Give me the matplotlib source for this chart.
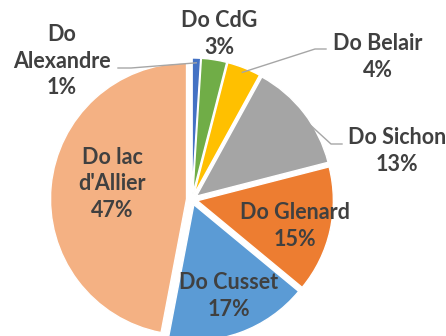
import matplotlib.pyplot as plt
import numpy as np

# parts of the total, clockwise from 12 o'clock
names = ["Do\nAlexandre", "Do CdG", "Do Belair", "Do Sichon",
         "Do Glenard", "Do Cusset", "Do lac\nd'Allier"]
shares = [1, 3, 4, 13, 15, 17, 47]
colors = ["#4472C4", "#70AD47", "#FFC000", "#A5A5A5",
          "#ED7D31", "#5B9BD5", "#F4B183"]

W, H = 446, 336
cx, cy, rad = 192, 199.5, 136  # pie centre / radius in pixels (y from top)
gap = 5.5                      # how far each slice is pulled out

# label centres in pixels from the top-left corner
label_xy = [(62, 61), (219, 34), (378, 57), (397, 151),
            (295, 226), (229, 296), (112, 184)]
# leader lines: start at the label, then an elbow, then to the slice
leaders = {0: [(118, 68), (131, 68)],
           2: [(326, 49), (315, 49)],
           3: [(342, 144), (331, 144)]}

fig = plt.figure(figsize=(W / 100, H / 100), dpi=100)
ax = fig.add_axes([0, 0, 1, 1])

wedges, _ = ax.pie(shares, colors=colors, startangle=90, counterclock=False,
                   explode=[gap] * len(shares), radius=rad,
                   center=(cx, H - cy),
                   wedgeprops=dict(edgecolor='white', linewidth=1))

for i, pts in leaders.items():
    w = wedges[i]
    t = np.deg2rad((w.theta1 + w.theta2) / 2)
    ex = w.center[0] + 0.965 * w.r * np.cos(t)
    ey = w.center[1] + 0.965 * w.r * np.sin(t)
    xs = [p[0] for p in pts] + [ex]
    ys = [H - p[1] for p in pts] + [ey]
    ax.plot(xs, ys, color='#A6A6A6', lw=1)

for name, s, (x, y) in zip(names, shares, label_xy):
    ax.text(x, H - y, f"{name}\n{s}%", ha='center', va='center',
            fontsize=15.5, fontweight='bold', color='#404040',
            family='Lato', linespacing=1.32)

ax.set_xlim(0, W)
ax.set_ylim(0, H)
ax.axis('off')
fig.savefig('out.png', dpi=100)
